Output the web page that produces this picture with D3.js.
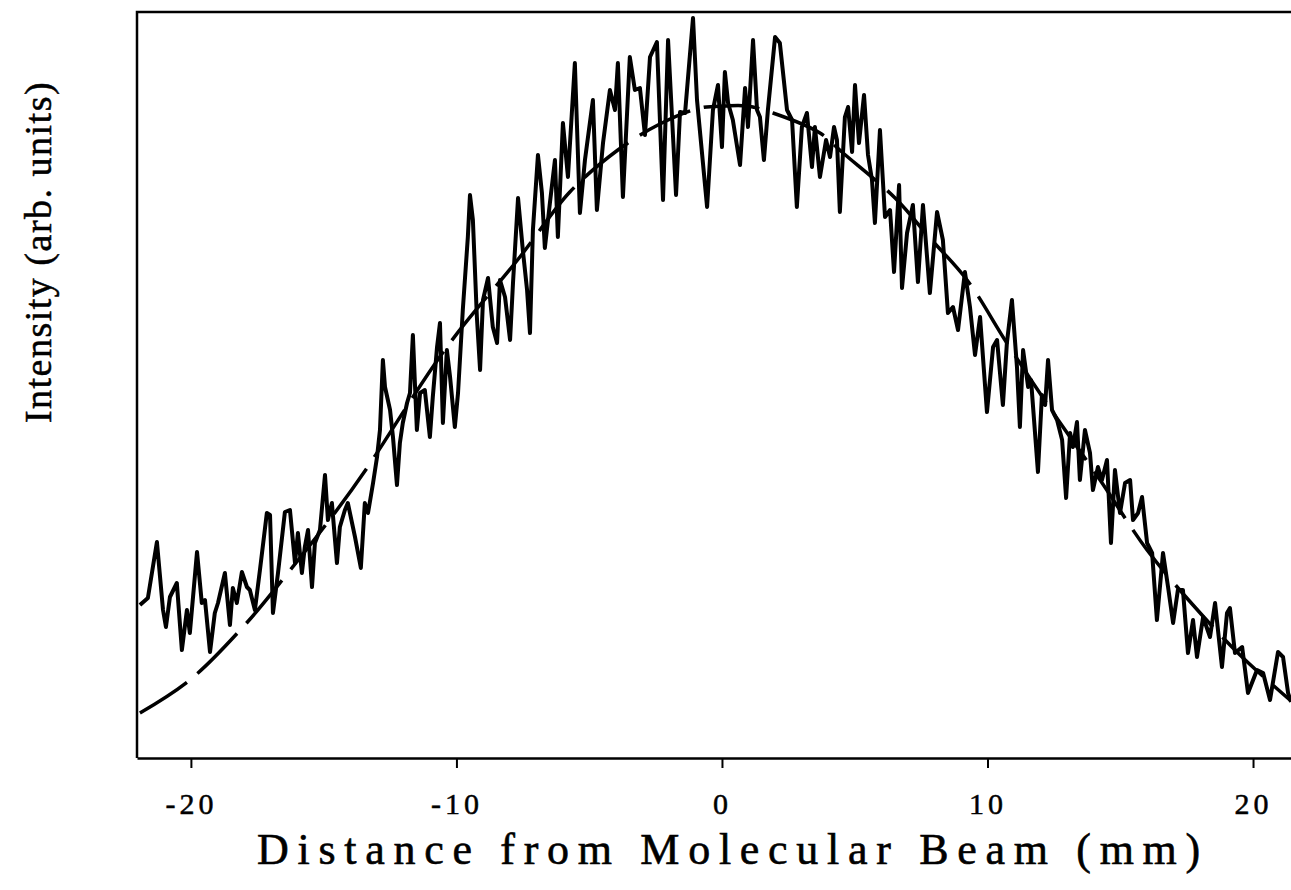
<!DOCTYPE html>
<html><head><meta charset="utf-8">
<script src="https://cdn.jsdelivr.net/npm/d3@7"></script>
<style>body{margin:0;background:#fff;} svg{display:block}</style>
</head><body>
<svg id="chart" width="1291" height="890"></svg>
<script>
// Measured scan (distance in mm, intensity in arb. units)
const distance = [-21.92,-21.62,-21.28,-21.05,-20.94,-20.79,-20.53,-20.34,-20.15,-20.04,-19.77,-19.59,-19.47,-19.28,-19.10,-18.98,-18.72,-18.53,-18.42,-18.27,-18.08,-17.89,-17.78,-17.59,-17.40,-17.14,-17.02,-16.91,-16.72,-16.46,-16.27,-16.08,-15.97,-15.82,-15.71,-15.59,-15.44,-15.33,-15.14,-14.95,-14.84,-14.69,-14.50,-14.39,-14.20,-14.09,-13.82,-13.60,-13.45,-13.33,-13.14,-12.99,-12.88,-12.77,-12.69,-12.50,-12.39,-12.24,-12.13,-12.02,-11.86,-11.75,-11.64,-11.49,-11.37,-11.19,-11.00,-10.89,-10.73,-10.62,-10.51,-10.36,-10.24,-10.06,-9.94,-9.76,-9.57,-9.49,-9.38,-9.23,-9.11,-9.00,-8.81,-8.63,-8.47,-8.36,-8.17,-7.98,-7.87,-7.68,-7.50,-7.34,-7.23,-7.12,-6.93,-6.78,-6.67,-6.48,-6.29,-6.18,-5.99,-5.80,-5.54,-5.35,-5.16,-4.86,-4.71,-4.48,-4.22,-4.03,-3.92,-3.73,-3.47,-3.28,-3.09,-2.90,-2.71,-2.45,-2.22,-2.03,-1.73,-1.58,-1.39,-1.09,-0.94,-0.56,-0.34,-0.15,0.00,0.11,0.23,0.41,0.68,0.87,0.98,1.17,1.32,1.43,1.58,1.73,2.00,2.18,2.45,2.64,2.82,3.01,3.20,3.39,3.50,3.69,3.92,4.07,4.22,4.33,4.44,4.63,4.75,4.90,5.01,5.16,5.35,5.50,5.65,5.76,5.95,6.14,6.33,6.48,6.67,6.78,6.97,7.19,7.38,7.57,7.83,8.10,8.32,8.51,8.70,8.89,9.15,9.34,9.53,9.72,9.98,10.21,10.36,10.58,10.73,10.92,11.11,11.22,11.34,11.53,11.64,11.90,12.05,12.17,12.28,12.43,12.62,12.81,12.96,13.11,13.22,13.37,13.48,13.67,13.86,13.97,14.16,14.31,14.50,14.65,14.80,14.99,15.18,15.37,15.48,15.67,15.82,16.01,16.20,16.38,16.61,16.80,16.99,17.17,17.36,17.55,17.74,17.89,18.12,18.38,18.57,18.83,19.02,19.13,19.32,19.59,19.81,20.15,20.38,20.64,20.94,21.13,21.32,21.43];
const intensity = [15.3,16.0,21.6,14.8,13.1,16.1,17.5,10.8,14.8,12.5,20.6,15.5,15.8,10.6,14.5,15.5,18.5,13.3,17.0,15.5,18.6,17.1,16.8,14.8,18.8,24.5,24.3,14.5,18.5,24.6,24.8,19.5,22.5,18.5,21.1,22.8,17.1,21.5,22.8,28.3,23.8,25.5,19.5,23.1,24.8,25.5,22.1,19.0,25.5,24.5,27.5,30.1,32.8,39.8,37.1,34.8,32.1,27.3,31.5,33.5,35.5,36.5,42.3,32.8,36.5,36.8,32.1,36.1,41.1,43.5,33.5,40.8,38.1,33.1,36.5,44.8,52.1,56.3,53.8,44.1,38.8,45.8,48.0,43.1,41.5,47.8,46.1,41.8,47.5,56.0,50.8,46.8,42.5,52.8,60.3,56.5,51.0,55.5,59.8,52.1,63.5,58.1,69.5,54.5,59.8,65.8,54.8,61.5,66.8,64.8,69.5,56.1,70.1,66.8,67.0,62.3,70.1,71.6,55.8,71.8,56.3,64.6,64.5,74.0,65.8,55.1,64.8,67.3,61.1,68.6,65.5,63.8,59.3,67.0,63.1,71.8,64.8,64.1,59.8,64.8,72.1,71.5,64.8,63.8,55.1,63.1,64.5,59.1,63.1,58.1,61.8,60.1,63.1,61.8,54.6,64.1,65.1,60.6,67.3,61.5,66.3,60.3,57.8,53.5,62.8,54.1,54.8,48.6,57.3,47.0,52.5,55.3,47.6,55.3,46.5,54.6,51.8,44.5,45.1,42.8,48.6,45.1,40.3,44.1,34.6,41.1,41.8,35.3,41.5,45.8,39.1,33.1,40.8,37.1,37.8,28.6,36.3,35.3,39.8,34.8,33.8,31.8,26.0,32.5,31.1,33.6,27.8,32.8,30.5,26.8,29.1,27.8,29.8,21.5,28.8,24.5,27.5,27.8,23.8,24.5,26.1,21.5,20.5,13.8,20.5,17.1,13.5,16.8,16.8,10.5,13.8,10.1,14.1,12.1,15.5,9.1,14.5,15.0,10.5,11.1,6.5,8.8,8.5,5.8,10.6,10.1,6.5,5.6];
// Fitted profile (dashed)
const fitDistance = [-21.92,-20.04,-17.97,-16.35,-14.50,-13.37,-10.36,-7.61,-5.73,-3.92,-2.34,-0.83,0.11,0.94,1.92,3.69,4.56,6.52,7.83,9.23,10.73,12.35,14.24,16.01,17.74,19.51,21.39];
const fitIntensity = [4.5,7.8,13.3,18.5,24.8,29.0,41.1,50.1,56.6,60.8,63.4,65.0,65.2,65.2,64.5,62.5,60.5,56.0,52.0,47.8,41.5,35.0,27.8,20.8,15.3,10.3,5.8];
const xTicks = [-20, -10, 0, 10, 20];
const xTitle = "Distance from Molecular Beam (mm)";
const yTitle = "Intensity (arb. units)";

const svg = d3.select("#chart");
const x = d3.scaleLinear().domain([-22.03, 21.43]).range([137, 1291]);
const y = d3.scaleLinear().domain([0, 74.6]).range([758, 12]);
const font = "'Liberation Serif','Times New Roman',serif";

// frame: left and top borders
svg.append("path")
  .attr("d", `M${x.range()[0]},${y.range()[0]}V${y.range()[1]}H${x.range()[1]}`)
  .attr("fill", "none").attr("stroke", "#000").attr("stroke-width", 2.5);

// bottom axis
const xAxis = svg.append("g")
  .attr("transform", `translate(0,${y.range()[0]})`)
  .call(d3.axisBottom(x).tickValues(xTicks).tickSize(10).tickSizeOuter(0).tickFormat(d => String(d)));
xAxis.select(".domain").attr("stroke-width", 2.5);
xAxis.selectAll(".tick line").attr("stroke-width", 2);
xAxis.selectAll(".tick text")
  .attr("y", 35).attr("dy", "0.71em")
  .attr("font-family", font).attr("font-size", 30).attr("letter-spacing", 4)
  .attr("fill", "#000").attr("stroke", "#000").attr("stroke-width", 0.5);

// fitted curve
const fitData = fitDistance.map((d, i) => [d, fitIntensity[i]]);
svg.append("path")
  .datum(fitData)
  .attr("d", d3.line().x(d => x(d[0])).y(d => y(d[1])).curve(d3.curveCatmullRom))
  .attr("fill", "none").attr("stroke", "#000").attr("stroke-width", 3.5)
  .attr("stroke-dasharray", "56,14");

// measured scan
const scan = distance.map((d, i) => [d, intensity[i]]);
svg.append("path")
  .datum(scan)
  .attr("d", d3.line().x(d => x(d[0])).y(d => y(d[1])))
  .attr("fill", "none").attr("stroke", "#000").attr("stroke-width", 4)
  .attr("stroke-linejoin", "round");

// titles
svg.append("text")
  .attr("x", 733).attr("y", 864)
  .attr("text-anchor", "middle")
  .attr("font-family", font).attr("font-size", 44).attr("letter-spacing", 8.7)
  .attr("stroke", "#000").attr("stroke-width", 0.6)
  .text(xTitle);

svg.append("text")
  .attr("transform", "translate(51,252) rotate(-90)")
  .attr("text-anchor", "middle")
  .attr("font-family", font).attr("font-size", 38).attr("letter-spacing", 1.5)
  .attr("stroke", "#000").attr("stroke-width", 0.5)
  .text(yTitle);
</script>
</body></html>
